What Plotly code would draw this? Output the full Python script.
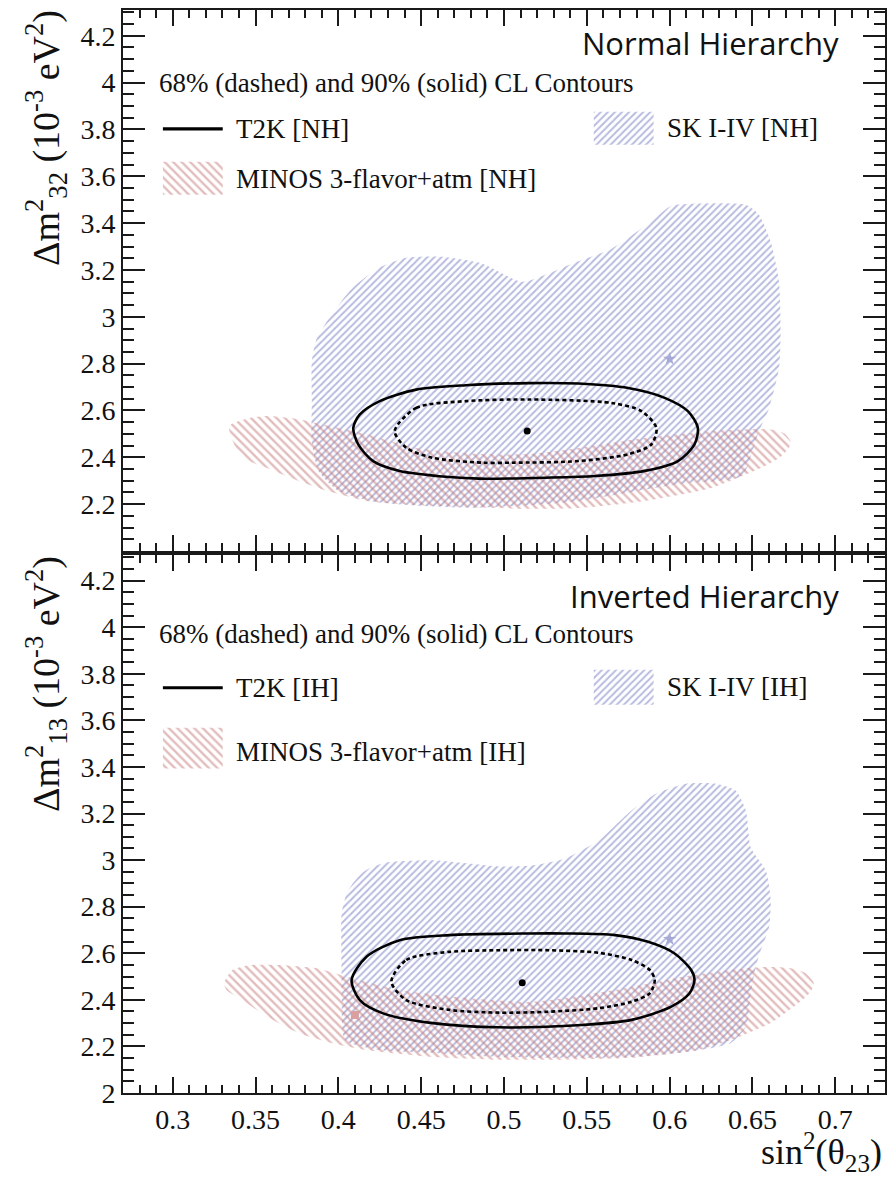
import plotly.graph_objects as go

# ---------------- data: Normal hierarchy (top panel) ----------------
t2k_nh_90_x = [0.409, 0.413, 0.425, 0.447, 0.477, 0.515, 0.545, 0.575, 0.597, 0.611, 0.617,
               0.615, 0.605, 0.585, 0.555, 0.525, 0.485, 0.467, 0.437, 0.421, 0.412]
t2k_nh_90_y = [2.526, 2.583, 2.640, 2.689, 2.708, 2.717, 2.715, 2.696, 2.654, 2.597, 2.526,
               2.455, 2.384, 2.342, 2.320, 2.313, 2.309, 2.316, 2.342, 2.384, 2.455]
t2k_nh_68_x = [0.434, 0.447, 0.477, 0.515, 0.565, 0.583, 0.592, 0.589, 0.575, 0.545, 0.505,
               0.487, 0.457, 0.441]
t2k_nh_68_y = [2.512, 2.611, 2.640, 2.647, 2.632, 2.597, 2.526, 2.455, 2.413, 2.384, 2.377,
               2.377, 2.398, 2.441]
sk_nh_x = [0.408, 0.417, 0.426, 0.441, 0.461, 0.487, 0.511, 0.541, 0.565, 0.587, 0.601, 0.611,
           0.646, 0.654, 0.661, 0.666, 0.667, 0.666, 0.660, 0.654, 0.649, 0.644, 0.629, 0.611,
           0.581, 0.545, 0.509, 0.479, 0.449, 0.419, 0.400, 0.388, 0.384, 0.384, 0.384, 0.387,
           0.396]
sk_nh_y = [3.120, 3.172, 3.214, 3.252, 3.257, 3.227, 3.150, 3.227, 3.291, 3.397, 3.474, 3.482,
           3.478, 3.435, 3.320, 3.150, 2.937, 2.780, 2.610, 2.512, 2.406, 2.320, 2.299, 2.291,
           2.257, 2.214, 2.193, 2.184, 2.193, 2.214, 2.257, 2.342, 2.469, 2.640, 2.810, 2.908,
           3.010]
minos_nh_x = [0.334, 0.3355, 0.346, 0.357, 0.376, 0.387, 0.417, 0.447, 0.485, 0.515, 0.545,
              0.585, 0.625, 0.646, 0.660, 0.669, 0.673, 0.672, 0.666, 0.655, 0.625, 0.585,
              0.545, 0.515, 0.457, 0.417, 0.393, 0.376, 0.357, 0.346, 0.340, 0.3355]
minos_nh_y = [2.525, 2.542, 2.567, 2.576, 2.563, 2.546, 2.499, 2.440, 2.414, 2.414, 2.440,
              2.482, 2.512, 2.520, 2.520, 2.503, 2.469, 2.440, 2.397, 2.354, 2.269, 2.214,
              2.184, 2.180, 2.193, 2.214, 2.257, 2.299, 2.354, 2.384, 2.418, 2.482]
t2k_nh_best = (0.514, 2.512)
sk_nh_best = (0.600, 2.82)

# ---------------- data: Inverted hierarchy (bottom panel) ----------------
t2k_ih_90_x = [0.408, 0.417, 0.437, 0.467, 0.515, 0.537, 0.567, 0.587, 0.603, 0.613, 0.615,
               0.612, 0.601, 0.577, 0.547, 0.497, 0.457, 0.427, 0.413]
t2k_ih_90_y = [2.485, 2.585, 2.656, 2.678, 2.685, 2.685, 2.678, 2.649, 2.599, 2.528, 2.485,
               2.428, 2.371, 2.314, 2.292, 2.282, 2.300, 2.342, 2.399]
t2k_ih_68_x = [0.432, 0.441, 0.467, 0.497, 0.527, 0.557, 0.577, 0.588, 0.591, 0.588, 0.577,
               0.557, 0.527, 0.497, 0.467, 0.441]
t2k_ih_68_y = [2.478, 2.571, 2.606, 2.613, 2.613, 2.602, 2.571, 2.528, 2.485, 2.428, 2.392,
               2.364, 2.349, 2.345, 2.357, 2.399]
sk_ih_x = [0.408, 0.414, 0.420, 0.429, 0.457, 0.497, 0.517, 0.537, 0.557, 0.577, 0.592, 0.610,
           0.628, 0.640, 0.646, 0.649, 0.658, 0.661, 0.660, 0.655, 0.652, 0.649, 0.646, 0.637,
           0.611, 0.577, 0.537, 0.497, 0.455, 0.425, 0.404, 0.402, 0.402, 0.402, 0.405]
sk_ih_y = [2.892, 2.943, 2.969, 2.990, 2.999, 2.973, 2.977, 3.007, 3.084, 3.213, 3.286, 3.328,
           3.328, 3.298, 3.213, 3.054, 2.956, 2.828, 2.712, 2.613, 2.541, 2.429, 2.284, 2.215,
           2.177, 2.155, 2.151, 2.155, 2.173, 2.185, 2.228, 2.399, 2.515, 2.772, 2.857]
minos_ih_x = [0.331, 0.336, 0.346, 0.366, 0.387, 0.402, 0.437, 0.477, 0.515, 0.537, 0.577,
              0.607, 0.637, 0.658, 0.673, 0.682, 0.687, 0.685, 0.678, 0.661, 0.637, 0.617,
              0.577, 0.537, 0.497, 0.457, 0.417, 0.396, 0.376, 0.357, 0.342, 0.3325]
minos_ih_y = [2.472, 2.528, 2.549, 2.549, 2.536, 2.506, 2.442, 2.408, 2.391, 2.408, 2.455,
              2.498, 2.528, 2.541, 2.536, 2.515, 2.472, 2.434, 2.387, 2.301, 2.228, 2.185,
              2.151, 2.143, 2.143, 2.155, 2.185, 2.215, 2.258, 2.327, 2.399, 2.442]
t2k_ih_best = (0.511, 2.473)
sk_ih_best = (0.600, 2.66)
minos_ih_best = (0.410, 2.335)

# ---------------- axis ticks / labels ----------------
x_range = [0.27, 0.73]
y_range = [2.0, 4.31]
x_tickvals = [0.3, 0.35, 0.4, 0.45, 0.5, 0.55, 0.6, 0.65, 0.7]
x_ticktext = ["0.3", "0.35", "0.4", "0.45", "0.5", "0.55", "0.6", "0.65", "0.7"]
y_tickvals_top = [2.2, 2.4, 2.6, 2.8, 3.0, 3.2, 3.4, 3.6, 3.8, 4.0, 4.2]
y_ticktext_top = ["2.2", "2.4", "2.6", "2.8", "3", "3.2", "3.4", "3.6", "3.8", "4", "4.2"]
y_tickvals_bot = [2.0] + y_tickvals_top
y_ticktext_bot = ["2"] + y_ticktext_top
x_minor_step = 0.01
y_minor_step = 0.05

# ---------------- styling / geometry ----------------
W, H = 895, 1178
ML, MR, MT, MB = 123, 8, 8, 85
PW, PH = W - ML - MR, H - MT - MB
TOP_PANEL_PX = (MT, 550)        # top and bottom pixel rows of the upper frame
BOT_PANEL_PX = (554, H - MB)    # top and bottom pixel rows of the lower frame
BLUE = "#6f77bf"
RED = "#c77a7a"
AXC = "#1a1a1a"
SERIF = "Liberation Serif"
SANS = "Open Sans"


def closed(a):
    return list(a) + [a[0]]


def py(p):
    return (H - MB - p) / PH


def px(p):
    return (p - ML) / PW


def data_x(p):
    return x_range[0] + (p - ML) / PW * (x_range[1] - x_range[0])


def data_y(p, panel):
    t, b = panel
    return y_range[0] + (b - p) / (b - t) * (y_range[1] - y_range[0])


fig = go.Figure()


def hatched(xs, ys, xa, ya, color, shape, size, smooth=True):
    fig.add_trace(go.Scatter(x=xs, y=ys, xaxis=xa, yaxis=ya, mode="lines",
                             line=dict(width=0, color=color,
                                       shape="spline" if smooth else "linear", smoothing=0.6),
                             fill="toself", fillcolor=color,
                             fillpattern=dict(shape=shape, fgcolor=color,
                                              bgcolor="rgba(0,0,0,0)", size=size,
                                              solidity=0.4),
                             showlegend=False, hoverinfo="skip"))


def add_panel(xa, ya, sk_x, sk_y, mi_x, mi_y, t90x, t90y, t68x, t68y, tbest, skbest,
              mibest=None):
    hatched(closed(sk_x), closed(sk_y), xa, ya, BLUE, "/", 5)
    hatched(closed(mi_x), closed(mi_y), xa, ya, RED, "\\", 6)
    fig.add_trace(go.Scatter(x=closed(t90x), y=closed(t90y), xaxis=xa, yaxis=ya, mode="lines",
                             line=dict(width=2.6, color="black", shape="spline", smoothing=0.8),
                             showlegend=False, hoverinfo="skip"))
    fig.add_trace(go.Scatter(x=closed(t68x), y=closed(t68y), xaxis=xa, yaxis=ya, mode="lines",
                             line=dict(width=2.6, color="black", dash="4px,3px", shape="spline",
                                       smoothing=0.8),
                             showlegend=False, hoverinfo="skip"))
    fig.add_trace(go.Scatter(x=[skbest[0]], y=[skbest[1]], xaxis=xa, yaxis=ya, mode="markers",
                             marker=dict(symbol="star", size=10, color="#a7aad8"),
                             showlegend=False, hoverinfo="skip"))
    if mibest is not None:
        fig.add_trace(go.Scatter(x=[mibest[0]], y=[mibest[1]], xaxis=xa, yaxis=ya,
                                 mode="markers",
                                 marker=dict(symbol="square", size=8, color="#d9a0a0"),
                                 showlegend=False, hoverinfo="skip"))
    fig.add_trace(go.Scatter(x=[tbest[0]], y=[tbest[1]], xaxis=xa, yaxis=ya, mode="markers",
                             marker=dict(symbol="circle", size=7, color="black"),
                             showlegend=False, hoverinfo="skip"))


add_panel("x", "y", sk_nh_x, sk_nh_y, minos_nh_x, minos_nh_y, t2k_nh_90_x, t2k_nh_90_y,
          t2k_nh_68_x, t2k_nh_68_y, t2k_nh_best, sk_nh_best)
add_panel("x2", "y2", sk_ih_x, sk_ih_y, minos_ih_x, minos_ih_y, t2k_ih_90_x, t2k_ih_90_y,
          t2k_ih_68_x, t2k_ih_68_y, t2k_ih_best, sk_ih_best, minos_ih_best)

# ---------------- custom legends ----------------
leg_geom = {
    "NH": dict(xa="x", ya="y", panel=TOP_PANEL_PX, t2k_y=127, sk_box=(110, 143),
               mi_box=(160, 193), text68=81, title=41, mi_text=177,
               title_text="Normal Hierarchy"),
    "IH": dict(xa="x2", ya="y2", panel=BOT_PANEL_PX, t2k_y=687, sk_box=(669, 704),
               mi_box=(727, 768), text68=633, title=595, mi_text=751,
               title_text="Inverted Hierarchy"),
}


def swatch(g, x0, x1, y0, y1, color, shape, size):
    X0, X1 = data_x(x0), data_x(x1)
    Y0, Y1 = data_y(y0, g["panel"]), data_y(y1, g["panel"])
    hatched([X0, X1, X1, X0, X0], [Y0, Y0, Y1, Y1, Y0], g["xa"], g["ya"], color, shape, size,
            smooth=False)


annotations = []
for key in ["NH", "IH"]:
    g = leg_geom[key]
    ly = data_y(g["t2k_y"], g["panel"])
    fig.add_trace(go.Scatter(x=[data_x(163), data_x(223)], y=[ly, ly], xaxis=g["xa"],
                             yaxis=g["ya"], mode="lines", line=dict(width=3.2, color="black"),
                             showlegend=False, hoverinfo="skip"))
    swatch(g, 595, 655, g["sk_box"][0], g["sk_box"][1], BLUE, "/", 5)
    swatch(g, 163, 223, g["mi_box"][0], g["mi_box"][1], RED, "\\", 6)
    annotations += [
        dict(x=px(843), y=py(g["title"]), text=g["title_text"], xanchor="right",
             yanchor="middle", font=dict(family=SANS, size=31, color="#111")),
        dict(x=px(157), y=py(g["text68"]), text="68% (dashed) and 90% (solid) CL Contours",
             xanchor="left", yanchor="middle", font=dict(family=SERIF, size=27, color="#111")),
        dict(x=px(234), y=py(g["t2k_y"]), text="T2K [%s]" % key, xanchor="left",
             yanchor="middle", font=dict(family=SERIF, size=27, color="#111")),
        dict(x=px(666), y=py((g["sk_box"][0] + g["sk_box"][1]) / 2),
             text="SK I-IV [%s]" % key,
             xanchor="left", yanchor="middle", font=dict(family=SERIF, size=27, color="#111")),
        dict(x=px(234), y=py(g["mi_text"]), text="MINOS 3-flavor+atm [%s]" % key,
             xanchor="left", yanchor="middle", font=dict(family=SERIF, size=27, color="#111")),
    ]

# axis titles
annotations += [
    dict(x=px(46), y=py(136), textangle=-90, xanchor="center", yanchor="middle",
         text="Δm<sup>2</sup><sub>32</sub> (10<sup>-3</sup> eV<sup>2</sup>)",
         font=dict(family=SERIF, size=38, color="#111")),
    dict(x=px(46), y=py(683), textangle=-90, xanchor="center", yanchor="middle",
         text="Δm<sup>2</sup><sub>13</sub> (10<sup>-3</sup> eV<sup>2</sup>)",
         font=dict(family=SERIF, size=38, color="#111")),
    dict(x=px(886), y=py(1152), xanchor="right", yanchor="middle",
         text="sin<sup>2</sup>(θ<sub>23</sub>)",
         font=dict(family=SERIF, size=36, color="#111")),
]
for a in annotations:
    a.update(xref="paper", yref="paper", showarrow=False)

# ---------------- axes: ROOT-style ticks on all four sides ----------------
frame = dict(showline=True, linewidth=2, linecolor=AXC, mirror="allticks",
             showgrid=False, zeroline=False, ticks="inside", tickcolor=AXC, tickwidth=2,
             fixedrange=True, layer="above traces")

xcommon = dict(frame, range=x_range, tickmode="array", tickvals=x_tickvals,
               ticktext=x_ticktext, ticklen=16,
               minor=dict(ticks="inside", ticklen=8, tickmode="linear", tick0=0,
                          dtick=x_minor_step, tickcolor=AXC, tickwidth=2, showgrid=False),
               tickfont=dict(family=SERIF, size=28, color="#111"))
ycommon = dict(frame, range=y_range, tickmode="array", ticklen=22,
               minor=dict(ticks="inside", ticklen=11, tickmode="linear", tick0=0,
                          dtick=y_minor_step, tickcolor=AXC, tickwidth=2, showgrid=False),
               tickfont=dict(family=SERIF, size=28, color="#111"))

top_bottom = py(TOP_PANEL_PX[1])
bot_top = py(BOT_PANEL_PX[0])

fig.update_layout(
    width=W, height=H,
    margin=dict(l=ML, r=MR, t=MT, b=MB, pad=0),
    paper_bgcolor="white", plot_bgcolor="white",
    showlegend=False,
    xaxis=dict(xcommon, domain=[0, 1], anchor="y", showticklabels=False),
    yaxis=dict(ycommon, domain=[top_bottom, 1], anchor="x", tickvals=y_tickvals_top,
               ticktext=y_ticktext_top),
    xaxis2=dict(xcommon, domain=[0, 1], anchor="y2"),
    yaxis2=dict(ycommon, domain=[0, bot_top], anchor="x2", tickvals=y_tickvals_bot,
                ticktext=y_ticktext_bot),
    annotations=annotations,
)

fig.write_html("out.html")
